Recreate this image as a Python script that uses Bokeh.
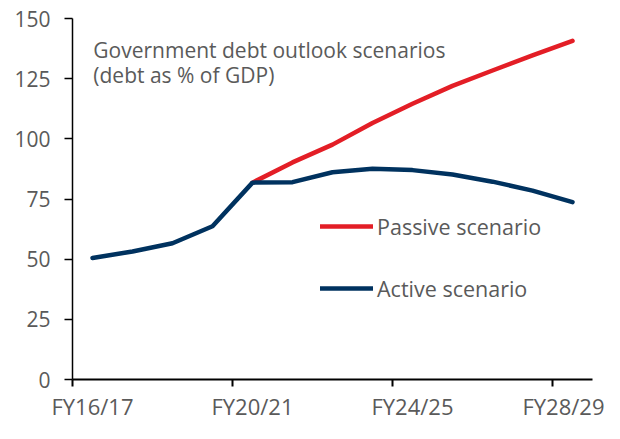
from bokeh.plotting import figure
from bokeh.models import (Range1d, FixedTicker, Legend, LegendItem, Label)
from bokeh.embed import file_html
from bokeh.resources import INLINE

categories = ["FY16/17", "FY17/18", "FY18/19", "FY19/20", "FY20/21", "FY21/22",
              "FY22/23", "FY23/24", "FY24/25", "FY25/26", "FY26/27", "FY27/28", "FY28/29"]
active = [50.5, 53.2, 56.6, 63.7, 81.8, 82.0, 86.1, 87.6, 87.0, 85.2, 82.2, 78.5, 73.7]
passive_categories = categories[4:]
passive = [81.8, 90.2, 97.6, 106.6, 114.6, 122.0, 128.4, 134.7, 140.7]
tick_labels = ["FY16/17", "FY20/21", "FY24/25", "FY28/29"]
y_ticks = [0, 25, 50, 75, 100, 125, 150]

RED = "#E31E26"
BLUE = "#00325F"
GRAY = "#5a5a5a"
FONT = "Open Sans"
FS = "21px"

xa = list(range(len(categories)))
xp = [categories.index(c) for c in passive_categories]

p = figure(width=604, height=423, output_backend="svg", toolbar_location=None,
           x_range=Range1d(-0.5, len(categories) - 0.5), y_range=Range1d(0, 150),
           min_border_left=72, min_border_right=12, min_border_top=18, min_border_bottom=37)
p.outline_line_color = None
p.xgrid.visible = False
p.ygrid.visible = False

r_pas = p.line(xp, passive, line_color=RED, line_width=4.5, line_cap="round", line_join="round")
r_act = p.line(xa, active, line_color=BLUE, line_width=4.5, line_cap="round", line_join="round")

# y axis
p.yaxis.ticker = FixedTicker(ticks=y_ticks)
p.yaxis.axis_line_color = "black"
p.yaxis.axis_line_width = 1.5
p.yaxis.major_tick_line_color = "black"
p.yaxis.major_tick_line_width = 1.5
p.yaxis.major_tick_out = 8
p.yaxis.major_tick_in = 0
p.yaxis.minor_tick_line_color = None
p.yaxis.major_label_text_font = FONT
p.yaxis.major_label_text_font_size = FS
p.yaxis.major_label_text_color = GRAY
p.yaxis.major_label_standoff = 14

# x axis: labels at category centers, tick marks at category boundaries
label_pos = [categories.index(t) for t in tick_labels]
p.xaxis.ticker = FixedTicker(ticks=label_pos, minor_ticks=[i - 0.5 for i in label_pos])
p.xaxis.major_label_overrides = {i: categories[i] for i in label_pos}
p.xaxis.axis_line_color = "black"
p.xaxis.axis_line_width = 2
p.xaxis.major_tick_line_color = None
p.xaxis.major_tick_out = 0
p.xaxis.major_tick_in = 0
p.xaxis.minor_tick_line_color = "black"
p.xaxis.minor_tick_line_width = 2
p.xaxis.minor_tick_out = 7
p.xaxis.minor_tick_in = 0
p.xaxis.major_label_text_font = FONT
p.xaxis.major_label_text_font_size = "22px"
p.xaxis.major_label_text_color = GRAY
p.xaxis.major_label_standoff = 4

# annotation text
for txt, yv in [("Government debt outlook scenarios", 136.8), ("(debt as % of GDP)", 126.4)]:
    p.add_layout(Label(x=0.02, y=yv, text=txt, text_font=FONT, text_font_size=FS,
                       text_color=GRAY, text_baseline="alphabetic"))

legend = Legend(items=[LegendItem(label="Passive scenario", renderers=[r_pas]),
                       LegendItem(label="Active scenario", renderers=[r_act])],
                location=(248, 76), orientation="vertical",
                glyph_width=53, glyph_height=30, label_height=30, spacing=32,
                padding=0, margin=0, label_standoff=4,
                border_line_color=None, background_fill_alpha=0,
                label_text_font=FONT, label_text_font_size="21.5px", label_text_color=GRAY)
p.add_layout(legend)

open("out.html", "w").write(file_html(p, INLINE))
